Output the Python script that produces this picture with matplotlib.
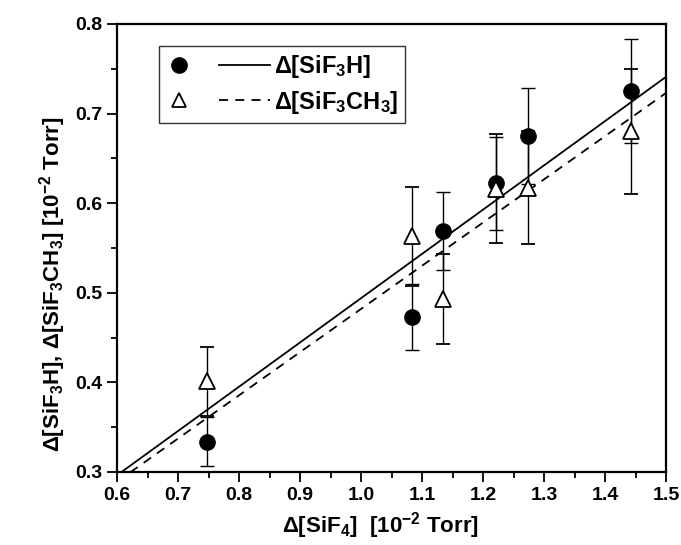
import numpy as np
import matplotlib
matplotlib.use('Agg')
import matplotlib.pyplot as plt
from matplotlib.lines import Line2D
from matplotlib.legend_handler import HandlerBase
from matplotlib.ticker import MultipleLocator

plt.rcParams['font.family'] = ['Liberation Sans', 'DejaVu Sans']
plt.rcParams['font.weight'] = 'bold'
plt.rcParams['axes.labelweight'] = 'bold'
plt.rcParams['mathtext.fontset'] = 'custom'
plt.rcParams['mathtext.rm'] = 'Liberation Sans:bold'
plt.rcParams['mathtext.bf'] = 'Liberation Sans:bold'
plt.rcParams['mathtext.default'] = 'bf'

# data
x_sif4 = [0.748, 1.083, 1.134, 1.222, 1.274, 1.443]
y_sif3h = [0.334, 0.473, 0.569, 0.622, 0.675, 0.725]
err_sif3h = [0.027, 0.037, 0.044, 0.052, 0.054, 0.058]
y_sif3ch3 = [0.401, 0.563, 0.493, 0.616, 0.617, 0.680]
err_sif3ch3 = [0.038, 0.055, 0.050, 0.061, 0.063, 0.070]

# fitted slopes (lines through origin)
slope_sif3h = 0.494
slope_sif3ch3 = 0.482


class MarkerThenLine(HandlerBase):
    # marker on the left, line segment on the right, like the original legend
    def create_artists(self, legend, orig_handle, xdescent, ydescent,
                       width, height, fontsize, trans):
        mk, ln = orig_handle
        y = height / 2 - ydescent
        x0 = -xdescent
        m = Line2D([x0 + 0.12 * width], [y])
        m.update_from(mk)
        m.set_transform(trans)
        l = Line2D([x0 + 0.51 * width, x0 + width], [y, y])
        l.update_from(ln)
        l.set_transform(trans)
        return [m, l]


fig = plt.figure(figsize=(6.81, 5.45), dpi=100)
ax = fig.add_axes([0.172, 0.134, 0.806, 0.822])

xf = np.array([0.6, 1.5])
ax.plot(xf, slope_sif3h * xf, color='black', lw=1.3, zorder=2)
ax.plot(xf, slope_sif3ch3 * xf, color='black', lw=1.3, ls=(0, (5, 4)), zorder=2)

ax.errorbar(x_sif4, y_sif3h, yerr=err_sif3h, fmt='o', color='black',
            ms=11, elinewidth=1, capsize=5, capthick=1, zorder=3)
ax.errorbar(x_sif4, y_sif3ch3, yerr=err_sif3ch3, fmt='^', color='black',
            mfc='white', mec='black', mew=1.3, ms=12, elinewidth=1,
            capsize=5, capthick=1, zorder=4)

ax.set_xlim(0.6, 1.5)
ax.set_ylim(0.3, 0.8)
ax.xaxis.set_major_locator(MultipleLocator(0.1))
ax.xaxis.set_minor_locator(MultipleLocator(0.05))
ax.yaxis.set_major_locator(MultipleLocator(0.1))
ax.yaxis.set_minor_locator(MultipleLocator(0.05))
ax.tick_params(which='both', direction='out', width=1.3, labelsize=14)
ax.tick_params(which='major', length=7)
ax.tick_params(which='minor', length=4)
for lab in ax.get_xticklabels() + ax.get_yticklabels():
    lab.set_fontweight('bold')
for sp in ax.spines.values():
    sp.set_linewidth(1.6)

ax.set_xlabel(r'$\Delta$[SiF$_4$]  [10$^{-2}$ Torr]', fontsize=16,
              fontweight='bold', labelpad=5, x=0.479)
ax.set_ylabel(r'$\Delta$[SiF$_3$H], $\Delta$[SiF$_3$CH$_3$] [10$^{-2}$ Torr]',
              fontsize=16, fontweight='bold', labelpad=5, y=0.42)

h_c = Line2D([], [], marker='o', color='black', ls='none', ms=11)
h_t = Line2D([], [], marker='^', color='black', mfc='white', mew=1.3, ls='none', ms=10)
h_s = Line2D([], [], color='black', lw=1.3)
h_d = Line2D([], [], color='black', lw=1.3, ls=(0, (5, 4)))
leg = ax.legend([(h_c, h_s), (h_t, h_d)],
                [r'$\Delta$[SiF$_3$H]', r'$\Delta$[SiF$_3$CH$_3$]'],
                handler_map={tuple: MarkerThenLine()},
                loc='upper left', bbox_to_anchor=(0.077, 0.95),
                borderaxespad=0, prop={'size': 17, 'weight': 'bold'},
                frameon=True, fancybox=False, edgecolor='black',
                handlelength=4.4, handletextpad=0.15,
                borderpad=0.3, labelspacing=0.35)
leg.get_frame().set_linewidth(1.0)

fig.savefig('out.png', dpi=100)
